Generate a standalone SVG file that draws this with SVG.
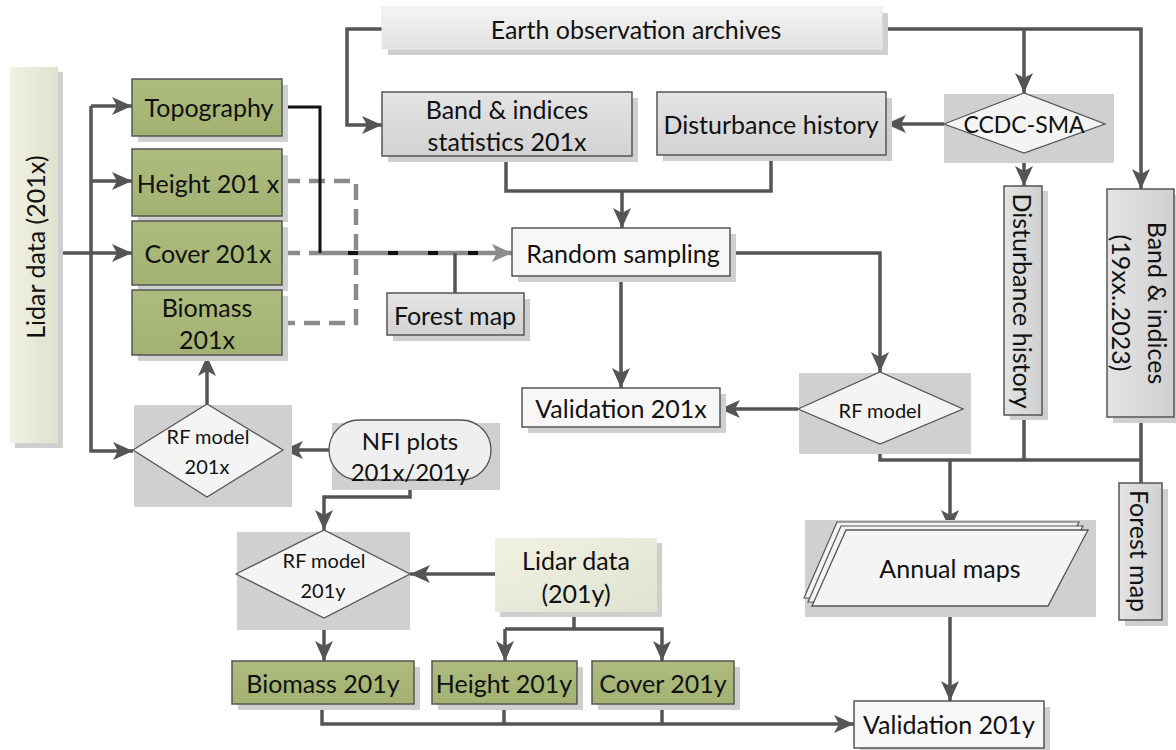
<svg xmlns="http://www.w3.org/2000/svg" width="1176" height="750" viewBox="0 0 1176 750">
<defs>
<linearGradient id="gLidar" x1="0" y1="0" x2="1" y2="0"><stop offset="0" stop-color="#f2f2e4"/><stop offset="1" stop-color="#dfe2cc"/></linearGradient>
<linearGradient id="gLidarY" x1="0" y1="0" x2="1" y2="1"><stop offset="0" stop-color="#f1f1e4"/><stop offset="1" stop-color="#e0e3cf"/></linearGradient>
<linearGradient id="gGray" x1="0" y1="0" x2="0" y2="1"><stop offset="0" stop-color="#e4e4e4"/><stop offset="1" stop-color="#d2d2d2"/></linearGradient>
<linearGradient id="gGrayH" x1="0" y1="0" x2="1" y2="0"><stop offset="0" stop-color="#e4e4e4"/><stop offset="1" stop-color="#d0d0d0"/></linearGradient>
<linearGradient id="gEO" x1="0" y1="0" x2="0" y2="1"><stop offset="0" stop-color="#f4f4f4"/><stop offset="1" stop-color="#e2e2e2"/></linearGradient>
<linearGradient id="gGreen" x1="0" y1="0" x2="0" y2="1"><stop offset="0" stop-color="#adbb7e"/><stop offset="1" stop-color="#a3b272"/></linearGradient>
<marker id="arr" markerUnits="userSpaceOnUse" markerWidth="22" markerHeight="20" refX="20" refY="10" orient="auto" viewBox="0 0 22 20"><path d="M0,1 L20,10 L0,19 L5,10 z" fill="#555"/></marker>
<marker id="arrG" markerUnits="userSpaceOnUse" markerWidth="22" markerHeight="20" refX="20" refY="10" orient="auto" viewBox="0 0 22 20"><path d="M0,1 L20,10 L0,19 L5,10 z" fill="#8c8c8c"/></marker>
</defs>
<style>
text{font-family:"Lato","Open Sans","DejaVu Sans",sans-serif;fill:#111;text-anchor:middle;dominant-baseline:central}
.t{font-size:25px}
.s{font-size:20px}
.sh{fill:#cfcfcf}
.green{fill:url(#gGreen);stroke:#555;stroke-width:1.5}
.gray{fill:url(#gGray);stroke:#555;stroke-width:1.5}
.white{fill:#f7f7f7;stroke:#555;stroke-width:1.5}
.bg{fill:#d0d0d0}
.dia{fill:#f4f4f4;stroke:#555;stroke-width:1.3}
.c{fill:none;stroke:#555;stroke-width:3.5}
.ca{fill:none;stroke:#555;stroke-width:3.5;marker-end:url(#arr)}
.dash{fill:none;stroke:#8a8a8a;stroke-width:4.5;stroke-dasharray:16,9}
</style>

<g id="connectors">
<path class="ca" d="M382,29 H347 V125 H382"/>
<path class="ca" d="M882,29 H1141 V189"/>
<path class="ca" d="M1024,29 V93"/>
<path class="ca" d="M944,124 H886"/>
<path class="ca" d="M1024,153 V186"/>
<path class="c" d="M506,156 V191 H771 V156"/>
<path class="ca" d="M622,191 V228"/>
<path class="ca" d="M730,253 H880 V372"/>
<path class="ca" d="M621,276 V388"/>
<path class="ca" d="M798,409 H720"/>
<path class="c" d="M880,444 V460 H1141"/>
<path class="c" d="M1024,415 V460"/>
<path class="c" d="M1141,417 V483"/>
<path class="ca" d="M950,460 V530"/>
<path class="ca" d="M950,606 V701"/>
<path class="ca" d="M58,253 H132"/>
<path class="ca" d="M91,181 H132"/>
<path class="ca" d="M91,106 H132"/>
<path class="ca" d="M91,106 V451 H133"/>
<path class="ca" d="M207,404 V356"/>
<path class="ca" d="M329,450 H283"/>
<path class="ca" d="M410,480 V497 H324 V530"/>
<path class="ca" d="M495,574 H410"/>
<path class="c" d="M574,612 V629"/>
<path class="ca" d="M505,629 H662 V661"/>
<path class="ca" d="M505,629 V661"/>
<path class="ca" d="M324,618 V661"/>
<path class="ca" d="M322,704 V724 H854"/>
<path class="c" d="M504,704 V724"/>
<path class="c" d="M662,704 V724"/>
<path class="dash" d="M284,181 H356 V323 H284"/>
<path class="dash" d="M284,253 H320"/>
<path fill="none" stroke="#8a8a8a" stroke-width="4.5" marker-end="url(#arrG)" d="M320,253 H512"/>
<path fill="none" stroke="#111" stroke-width="3" d="M282,107 H320 V253"/>
<path fill="none" stroke="#111" stroke-width="4" stroke-dasharray="10,30" d="M348,253 H490"/>
<path class="c" d="M455,293 V253"/>
</g>

<g id="eo-archives">
<rect class="sh" x="388" y="13" width="500" height="42"/>
<rect x="382" y="7" width="500" height="42" fill="url(#gEO)" stroke="#e8e8e8" stroke-width="1"/>
<text class="t" x="636" y="29">Earth observation archives</text>
</g>

<g id="lidar-201x">
<rect class="sh" x="15" y="72" width="48" height="376"/>
<rect x="10" y="67" width="48" height="376" fill="url(#gLidar)"/>
<text class="t" transform="translate(35,247) rotate(-90)">Lidar  data (201x)</text>
</g>

<g id="topography">
<rect class="sh" x="138" y="85" width="150" height="57"/>
<rect class="green" x="132" y="79" width="150" height="57"/>
<text class="t" x="209" y="107">Topography</text>
</g>
<g id="height-201x">
<rect class="sh" x="138" y="155" width="150" height="67"/>
<rect class="green" x="132" y="149" width="150" height="67"/>
<text class="t" x="208" y="183">Height 201 x</text>
</g>
<g id="cover-201x">
<rect class="sh" x="138" y="227" width="150" height="64"/>
<rect class="green" x="132" y="221" width="150" height="64"/>
<text class="t" x="208" y="253">Cover 201x</text>
</g>
<g id="biomass-201x">
<rect class="sh" x="138" y="296" width="150" height="65"/>
<rect class="green" x="132" y="290" width="150" height="65"/>
<text class="t" x="207" y="307">Biomass</text>
<text class="t" x="207" y="339">201x</text>
</g>

<g id="band-indices-stats">
<rect class="sh" x="388" y="98" width="250" height="64"/>
<rect class="gray" x="382" y="92" width="250" height="64"/>
<text class="t" x="507" y="109">Band &amp; indices</text>
<text class="t" x="507" y="141">statistics 201x</text>
</g>

<g id="disturbance-history-box">
<rect class="sh" x="663" y="98" width="229" height="63"/>
<rect class="gray" x="657" y="92" width="229" height="63"/>
<text class="t" x="771" y="124">Disturbance history</text>
</g>

<g id="ccdc-sma">
<rect class="bg" x="944" y="94" width="170" height="69"/>
<polygon class="dia" points="944,124 1024,93 1105,124 1024,153"/>
<text x="1024" y="124" font-size="23">CCDC-SMA</text>
</g>

<g id="disturbance-history-col">
<rect class="sh" x="1010" y="191" width="38" height="229"/>
<rect x="1004" y="186" width="38" height="229" fill="url(#gGrayH)" stroke="#555" stroke-width="1.5"/>
<text class="t" transform="translate(1023,301) rotate(90)">Disturbance history</text>
</g>

<g id="band-indices-col">
<rect class="sh" x="1113" y="195" width="67" height="228"/>
<rect x="1107" y="189" width="67" height="228" fill="url(#gGrayH)" stroke="#555" stroke-width="1.5"/>
<text class="t" transform="translate(1140,303) rotate(90)"><tspan x="0" y="-18">Band &amp; indices</tspan><tspan x="0" y="18">(19xx..2023)</tspan></text>
</g>

<g id="forest-map-right">
<rect class="sh" x="1125" y="489" width="43" height="137"/>
<rect x="1119" y="483" width="43" height="137" fill="url(#gGrayH)" stroke="#555" stroke-width="1.5"/>
<text class="t" transform="translate(1140,551) rotate(90)">Forest map</text>
</g>

<g id="random-sampling">
<rect class="sh" x="518" y="234" width="218" height="48"/>
<rect class="white" x="512" y="228" width="218" height="48"/>
<text class="t" x="623" y="253">Random sampling</text>
</g>

<g id="forest-map-mid">
<rect class="sh" x="393" y="299" width="137" height="42"/>
<rect class="gray" x="387" y="293" width="137" height="42"/>
<text class="t" x="455" y="315">Forest map</text>
</g>

<g id="validation-201x">
<rect class="sh" x="528" y="394" width="198" height="39"/>
<rect class="white" x="522" y="388" width="198" height="39"/>
<text class="t" x="621" y="408">Validation 201x</text>
</g>

<g id="rf-model">
<rect class="bg" x="799" y="373" width="172" height="81"/>
<polygon class="dia" points="798,409 880,372 963,409 880,444"/>
<text class="s" x="880" y="410">RF model</text>
</g>

<g id="rf-model-201x">
<rect class="bg" x="134" y="405" width="158" height="102"/>
<polygon class="dia" points="133,450 207,404 283,450 207,497"/>
<text class="s" x="208" y="436">RF model</text>
<text class="s" x="207" y="466">201x</text>
</g>

<g id="nfi-plots">
<rect class="bg" x="332" y="423" width="168" height="67"/>
<rect x="329" y="420" width="162" height="60" rx="30" ry="30" fill="#efefef" stroke="#555" stroke-width="1.3"/>
<text x="410" y="440" font-size="24">NFI plots</text>
<text x="410" y="471" font-size="24">201x/201y</text>
</g>

<g id="rf-model-201y">
<rect class="bg" x="237" y="532" width="173" height="98"/>
<polygon class="dia" points="236,574 324,530 410,574 324,618"/>
<text class="s" x="324" y="560">RF model</text>
<text class="s" x="323" y="590">201y</text>
</g>

<g id="lidar-201y">
<rect class="sh" x="500" y="543" width="162" height="74"/>
<rect x="495" y="538" width="162" height="74" fill="url(#gLidarY)"/>
<text class="t" x="576" y="560">Lidar data</text>
<text class="t" x="576" y="593">(201y)</text>
</g>

<g id="biomass-201y">
<rect class="sh" x="238" y="667" width="182" height="43"/>
<rect class="green" x="232" y="661" width="182" height="43"/>
<text class="t" x="323" y="683">Biomass 201y</text>
</g>
<g id="height-201y">
<rect class="sh" x="438" y="667" width="145" height="43"/>
<rect class="green" x="432" y="661" width="145" height="43"/>
<text class="t" x="504" y="683">Height 201y</text>
</g>
<g id="cover-201y">
<rect class="sh" x="598" y="667" width="142" height="43"/>
<rect class="green" x="592" y="661" width="142" height="43"/>
<text class="t" x="663" y="683">Cover 201y</text>
</g>

<g id="annual-maps">
<rect class="bg" x="805" y="520" width="291" height="97"/>
<polygon points="837,522 1079,522 1039,598 804,598" fill="#f4f4f4" stroke="#555" stroke-width="1.2"/>
<polygon points="841,526 1083,526 1043,602 808,602" fill="#f4f4f4" stroke="#555" stroke-width="1.2"/>
<polygon points="846,530 1088,530 1048,606 812,606" fill="#f4f4f4" stroke="#555" stroke-width="1.3"/>
<text class="t" x="950" y="568">Annual maps</text>
</g>

<g id="validation-201y">
<rect class="sh" x="860" y="707" width="190" height="47"/>
<rect class="white" x="854" y="701" width="190" height="47"/>
<text class="t" x="949" y="724">Validation 201y</text>
</g>
</svg>
